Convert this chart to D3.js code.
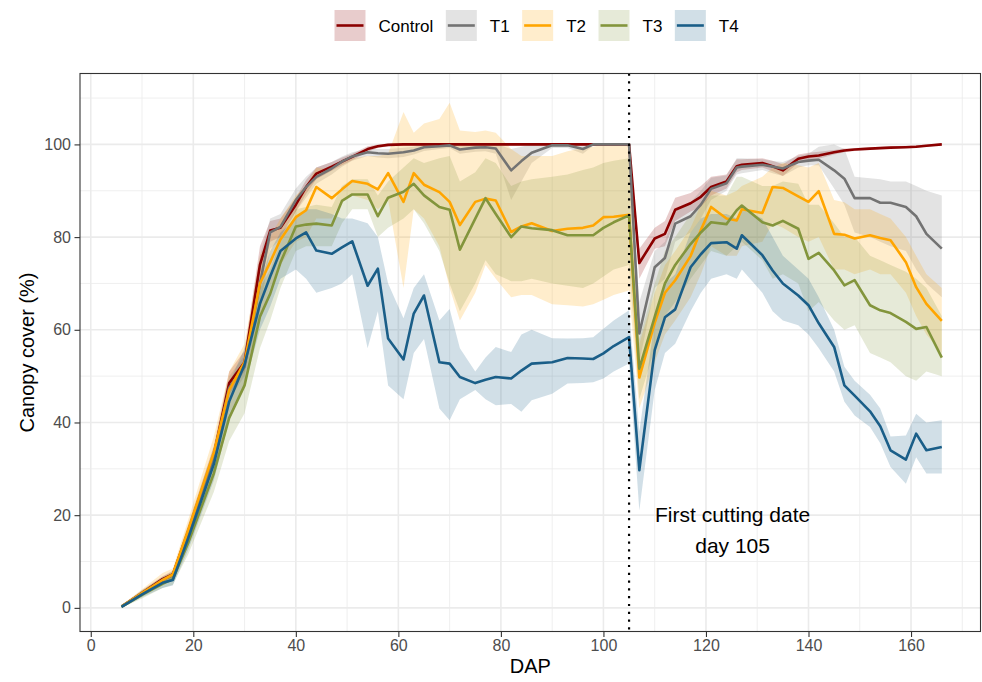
<!DOCTYPE html>
<html>
<head>
<meta charset="utf-8">
<script src="https://cdn.jsdelivr.net/npm/d3@7"></script>
<style>
  html, body { margin: 0; padding: 0; background: #ffffff; }
  svg { display: block; font-family: "Liberation Sans", Arial, Helvetica, sans-serif; }
</style>
</head>
<body>
<svg id="chart" width="982" height="682"></svg>
<script>
// Days after planting (DAP) of each canopy-cover survey
const dap = [6, 10, 14, 16, 19, 24, 27, 30,
  33, 35, 37, 40, 42, 44, 47, 49, 51, 54, 56, 58,
  61, 63, 65, 68, 70, 72, 75, 77, 79, 82, 84, 86,
  90, 93, 96, 98, 100, 102, 105,
  107, 110, 112, 114, 117, 119, 121, 124, 126, 127,
  131, 133, 135, 138, 140, 142, 145, 147, 149, 152, 154, 156, 159, 161, 163, 166];

// Control: mean canopy cover and ribbon bounds (%)
const controlMean = [0.3, 3.2, 6.2, 7.2, 16.5, 33, 48.5, 53,
  74, 81.4, 82, 87, 90.8, 93.7, 95.2, 96.3, 97.3, 99, 99.6, 99.9,
  100, 100, 100, 100, 100, 100, 100, 100, 100, 100, 100, 100,
  100, 100, 100, 100, 100, 100, 100,
  74.4, 79.7, 80.7, 85.9, 87.3, 88.7, 90.8, 92, 95.3, 95.6,
  96, 95.3, 94.4, 96.9, 97.4, 97.6, 98.3, 98.7, 98.9, 99.1, 99.2, 99.3, 99.4, 99.5, 99.7, 100];
const controlLow = [0.1, 2.6, 5.6, 6.5, 15, 31, 46, 51,
  70, 79, 80, 85.5, 89.3, 92.5, 94.3, 95.5, 96.6, 98.4, 99.2, 99.6,
  99.7, 99.7, 99.7, 99.7, 99.7, 99.7, 99.7, 99.7, 99.7, 99.7, 99.7, 99.7,
  99.7, 99.7, 99.7, 99.7, 99.7, 99.7, 99.7,
  71, 77.5, 78, 83.5, 85.5, 86.5, 89, 90.5, 94, 94.5,
  95, 94.2, 93.2, 96, 96.6, 96.9, 97.8, 98.3, 98.6, 98.8, 99, 99.1, 99.2, 99.3, 99.5, 99.8];
const controlHigh = [0.5, 3.8, 6.8, 8, 18, 35, 51, 55.5,
  78, 83.5, 84, 88.5, 92.3, 95, 96.2, 97.2, 98, 99.6, 100, 100.2,
  100.3, 100.3, 100.3, 100.3, 100.3, 100.3, 100.3, 100.3, 100.3, 100.3, 100.3, 100.3,
  100.3, 100.3, 100.3, 100.3, 100.3, 100.3, 100.3,
  77.5, 82, 83.5, 88.5, 89.5, 91, 93, 93.5, 96.8, 96.8,
  97, 96.5, 95.7, 97.8, 98.2, 98.4, 98.8, 99.1, 99.2, 99.4, 99.5, 99.6, 99.7, 99.8, 100, 100.2];

// T1
const t1Mean = [0.3, 3.1, 6, 7, 16, 32.5, 47.5, 52,
  70, 81, 82.2, 88, 90.8, 93, 94.8, 96.3, 97.4, 98.3, 98.1, 98,
  98.3, 98.7, 99.4, 99.6, 99.8, 98.9, 99.3, 99.4, 99.1, 94.4, 96.4, 98.2,
  99.8, 99.8, 99, 100, 100, 100, 100,
  59.2, 73.5, 75.5, 82.9, 84.5, 87, 90.4, 91.6, 95, 95.2,
  95.6, 95.2, 94.8, 96.2, 96.5, 96.7, 94.4, 92.6, 88.4, 88.4, 87.4, 87.4, 86.5, 84.5, 80.7, 77.5];
const t1Low = [0.1, 2.5, 5.3, 6.2, 14.5, 30.5, 45, 50,
  64, 77.5, 79.5, 85.5, 88.5, 91.5, 93.5, 95.2, 96.5, 97.5, 97.2, 97,
  97.3, 97.8, 98.6, 99, 99.2, 98, 98.4, 98.5, 98, 88, 92, 96,
  99.2, 99.2, 98, 99.7, 99.7, 99.7, 99.7,
  53, 69, 71, 79, 81, 84, 88, 90, 93.5, 93.8,
  94.5, 93.8, 93.2, 95, 95.5, 95.5, 90.5, 87, 81, 80, 79, 78, 77, 73, 70, 67];
const t1High = [0.5, 3.7, 6.7, 7.8, 17.5, 34.5, 50, 54.5,
  76, 84, 85, 90.5, 93, 95, 96.2, 97.4, 98.3, 99, 99, 99,
  99.3, 99.5, 100, 100.2, 100.3, 99.8, 100.2, 100.3, 100.2, 99, 99.5, 100,
  100.3, 100.3, 100, 100.3, 100.3, 100.3, 100.3,
  66, 77, 79, 86, 87.5, 90, 92.8, 93.3, 97, 97,
  96.8, 96.4, 96.2, 97.5, 98, 99.5, 100, 99, 93, 92.7, 92.5, 92, 92, 91, 90, 89];

// T2
const t2Mean = [0.3, 3.2, 6, 7.2, 16.8, 33.5, 47, 53,
  70, 74.6, 79.5, 84.3, 85.8, 90.8, 88.4, 90.3, 92.1, 91.5, 90.3, 93.8,
  87.6, 93.8, 91.3, 89.7, 87.6, 82.6, 87.6, 88.3, 87.9, 81.1, 82.3, 83,
  81.3, 81.8, 82, 82.5, 84.3, 84.4, 84.8,
  49.7, 61.5, 68, 70.7, 75.9, 81.5, 86.5, 84, 83.6, 86,
  85.2, 90.8, 90.6, 88.8, 87.6, 89.9, 80.7, 80.5, 79.7, 80.4, 79.8, 79.3, 74.6, 69.2, 65.6, 61.9];
const t2Low = [0.1, 2.5, 5, 6, 14, 29, 42, 48,
  63, 69, 74, 79, 80, 84, 84, 88, 89, 88, 86, 88,
  69, 86, 84, 78, 69, 62, 68, 74, 71, 67, 67.5, 67.5,
  65.5, 65.3, 65, 65.5, 66.5, 67.5, 68.5,
  43, 53, 59, 62, 67, 72, 78, 76, 76, 78,
  79, 83, 82, 80, 79, 80, 73, 73, 72, 73, 72, 72, 68, 63, 59, 55];
const t2High = [0.6, 4, 7.5, 8.5, 19, 37, 51, 57,
  76, 80, 84, 89, 91, 95, 94.5, 96, 97, 97.5, 97.5, 98,
  107, 102.5, 104.5, 105.5, 109, 103, 102.7, 103, 102.5, 99, 97.5, 97.5,
  97.5, 98.5, 99.3, 99.5, 100, 100, 100,
  57, 68, 74, 77, 82, 87, 90, 89, 90, 91,
  93, 95, 96, 95.5, 95, 96, 88, 87.5, 86, 86, 85, 84, 80, 76, 72, 69];

// T3
const t3Mean = [0.2, 2.8, 5.2, 6.2, 14, 29, 41, 48,
  62.8, 67.8, 74.5, 82.3, 82.7, 82.9, 82.5, 87.8, 89.2, 89.2, 84.5, 88.5,
  89.8, 91.5, 89, 86.5, 85.9, 77.3, 84, 88.4, 85, 80, 82.3, 81.9,
  81.5, 80.4, 80.4, 80.4, 82, 83.2, 84.7,
  51.6, 62.8, 70, 74, 78.5, 81, 83.2, 82.8, 85.8, 86.8,
  83.2, 82.5, 83.5, 81.8, 75.3, 76.6, 72.8, 69.6, 70.7, 65.3, 64.2, 63.6, 61.7, 60.2, 60.6, 54];
const t3Low = [0, 2, 4.3, 5, 11.5, 25, 36, 42,
  56, 62, 69, 77, 78, 78, 78, 83, 86, 86, 80, 82,
  84, 86, 83, 77, 70, 64, 70, 75, 72, 70.5, 70.5, 71,
  70, 69.5, 69, 70, 71.5, 73, 74,
  45, 56, 63, 66, 71, 74, 77, 76, 78, 79,
  75, 71, 72, 70, 64, 66, 62, 60, 61, 55, 54, 53, 50, 49, 51, 50];
const t3High = [0.5, 3.8, 6.5, 7.8, 16.5, 33, 46, 53,
  69, 73, 79, 86, 86.5, 87, 86.5, 91, 92.5, 92.5, 89, 92,
  95, 97, 96, 97, 97.5, 92, 94, 97, 96, 91, 92, 92.5,
  93, 93.5, 94.5, 95, 96, 96.5, 97,
  58, 70, 77, 80, 85, 87, 89, 89, 93, 93,
  91, 91, 92, 91.5, 87, 87, 83, 80, 80, 76, 75, 74, 72.5, 71, 69, 63];

// T4
const t4Mean = [0.2, 2.9, 5.4, 6, 15, 31, 44.5, 52.5,
  65.6, 71.5, 77, 79.7, 81, 77.1, 76.4, 77.8, 79.1, 69.5, 73.2, 58.1,
  53.6, 63.5, 67.4, 53, 52.7, 49.8, 48.5, 49.2, 49.8, 49.5, 51.2, 52.7,
  53, 53.9, 53.8, 53.7, 54.9, 56.5, 58.4,
  29.7, 55.6, 62.7, 64.4, 73.5, 76.3, 78.7, 78.9, 77.5, 80.4,
  76.1, 72.8, 70, 67.4, 65.3, 61.4, 56.3, 48, 45.8, 42.4, 39.2, 34, 32, 37.6, 34, 34.7];
const t4Low = [0, 2.3, 4.3, 4.8, 12.5, 27.5, 40.5, 48,
  60, 65, 71, 73, 71, 68, 69, 70, 72, 56, 64, 48,
  45, 55, 58, 43, 40.5, 45, 47, 45, 43.7, 44, 42.3, 44.8,
  46.2, 48.4, 48.5, 48.7, 49.5, 51, 52.7,
  21, 47, 55, 57, 64, 68, 71, 72, 71, 73,
  68, 64, 62, 61, 59, 56, 51, 44.5, 41.5, 39, 35.5, 30.4, 26.8, 32.5, 29, 29];
const t4High = [0.5, 3.6, 6.5, 7.5, 17.5, 34.5, 48.5, 56,
  70, 77, 81, 84, 86, 86, 85, 84, 84, 83, 80, 70,
  62.5, 69, 72, 62, 64.5, 56, 51, 54, 56.3, 55.2, 59, 60,
  58.2, 58.1, 58.2, 58.4, 60.2, 62, 64.2,
  38, 62, 70, 72, 81, 84, 85, 85, 84, 86,
  84, 80, 76, 73, 71, 67, 60, 52, 49, 46, 43, 37, 37.2, 41.9, 40, 40.5];

const treatments = ["Control", "T1", "T2", "T3", "T4"];
const colors = ["#8B0000", "#737373", "#FFA500", "#83953C", "#1A5E88"];
const xTicks = [0, 20, 40, 60, 80, 100, 120, 140, 160];
const yTicks = [0, 20, 40, 60, 80, 100];
const cutDay = 105;
const noteLines = ["First cutting date", "day 105"];

const series = [
  { name: treatments[0], color: colors[0], mean: controlMean, lo: controlLow, hi: controlHigh },
  { name: treatments[1], color: colors[1], mean: t1Mean, lo: t1Low, hi: t1High },
  { name: treatments[2], color: colors[2], mean: t2Mean, lo: t2Low, hi: t2High },
  { name: treatments[3], color: colors[3], mean: t3Mean, lo: t3Low, hi: t3High },
  { name: treatments[4], color: colors[4], mean: t4Mean, lo: t4Low, hi: t4High }
].map(s => ({ ...s, rows: dap.map((d, i) => ({ d, m: s.mean[i], lo: s.lo[i], hi: s.hi[i] })) }));

const svg = d3.select("#chart");
const panel = { left: 80, right: 980.5, top: 73.5, bottom: 631.5 };

const x = d3.scaleLinear().domain([-2.1, 173.55]).range([panel.left, panel.right]);
const y = d3.scaleLinear().domain([-5.1, 115.3]).range([panel.bottom, panel.top]);

svg.append("rect").attr("width", 982).attr("height", 682).attr("fill", "#ffffff");

// grid
const grid = svg.append("g");
const minorX = d3.range(10, 171, 20);
const minorY = d3.range(10, 111, 20);
grid.selectAll(".mx").data(minorX).join("line")
  .attr("x1", d => x(d)).attr("x2", d => x(d))
  .attr("y1", panel.top).attr("y2", panel.bottom)
  .attr("stroke", "#EBEBEB").attr("stroke-width", 0.8);
grid.selectAll(".my").data(minorY).join("line")
  .attr("y1", d => y(d)).attr("y2", d => y(d))
  .attr("x1", panel.left).attr("x2", panel.right)
  .attr("stroke", "#EBEBEB").attr("stroke-width", 0.8);
grid.selectAll(".gx").data(xTicks).join("line")
  .attr("x1", d => x(d)).attr("x2", d => x(d))
  .attr("y1", panel.top).attr("y2", panel.bottom)
  .attr("stroke", "#EBEBEB").attr("stroke-width", 1.6);
grid.selectAll(".gy").data(yTicks).join("line")
  .attr("y1", d => y(d)).attr("y2", d => y(d))
  .attr("x1", panel.left).attr("x2", panel.right)
  .attr("stroke", "#EBEBEB").attr("stroke-width", 1.6);

svg.append("clipPath").attr("id", "clip").append("rect")
  .attr("x", panel.left).attr("y", panel.top)
  .attr("width", panel.right - panel.left).attr("height", panel.bottom - panel.top);

const plot = svg.append("g").attr("clip-path", "url(#clip)");

const area = d3.area().x(r => x(r.d)).y0(r => y(r.lo)).y1(r => y(r.hi));
const line = d3.line().x(r => x(r.d)).y(r => y(r.m));

// ribbons first, then lines (T4 ends on top)
plot.selectAll(".ribbon").data(series).join("path")
  .attr("d", s => area(s.rows))
  .attr("fill", s => s.color).attr("fill-opacity", 0.2).attr("stroke", "none");

plot.selectAll(".mean").data(series).join("path")
  .attr("d", s => line(s.rows))
  .attr("fill", "none").attr("stroke", s => s.color)
  .attr("stroke-width", 2.6).attr("stroke-linejoin", "round");

// first cutting date
plot.append("line")
  .attr("x1", x(cutDay)).attr("x2", x(cutDay))
  .attr("y1", panel.top).attr("y2", panel.bottom)
  .attr("stroke", "#000").attr("stroke-width", 2.2)
  .attr("stroke-dasharray", "2.2,5.6");

svg.append("g").selectAll("text").data(noteLines).join("text")
  .attr("x", x(125.2))
  .attr("y", (d, i) => y(18.6) + i * 31)
  .attr("text-anchor", "middle")
  .attr("font-size", 21).attr("fill", "#000")
  .text(d => d);

// panel border
svg.append("rect")
  .attr("x", panel.left).attr("y", panel.top)
  .attr("width", panel.right - panel.left).attr("height", panel.bottom - panel.top)
  .attr("fill", "none").attr("stroke", "#333333").attr("stroke-width", 1.1);

// axes
const xAxis = svg.append("g").attr("transform", `translate(0,${panel.bottom})`)
  .call(d3.axisBottom(x).tickValues(xTicks).tickSize(5.5).tickPadding(3).tickFormat(d3.format("d")));
const yAxis = svg.append("g").attr("transform", `translate(${panel.left},0)`)
  .call(d3.axisLeft(y).tickValues(yTicks).tickSize(5.5).tickPadding(3.5).tickFormat(d3.format("d")));
[xAxis, yAxis].forEach(a => {
  a.select(".domain").remove();
  a.selectAll(".tick line").attr("stroke", "#333333").attr("stroke-width", 1.1);
  a.selectAll(".tick text").attr("fill", "#4D4D4D").attr("font-size", 16)
    .attr("font-family", "'Liberation Sans', Arial, Helvetica, sans-serif");
});

svg.append("text").attr("x", (panel.left + panel.right) / 2).attr("y", 673)
  .attr("text-anchor", "middle").attr("font-size", 20).attr("fill", "#000").text("DAP");
svg.append("text")
  .attr("transform", `translate(34,${(panel.top + panel.bottom) / 2}) rotate(-90)`)
  .attr("text-anchor", "middle").attr("font-size", 20).attr("fill", "#000").text("Canopy cover (%)");

// legend
const legend = svg.append("g");
let lx = 334.5;
series.forEach(s => {
  const g = legend.append("g").attr("transform", `translate(${lx},10)`);
  g.append("rect").attr("width", 31).attr("height", 31).attr("fill", "#ffffff");
  g.append("rect").attr("width", 31).attr("height", 31).attr("fill", s.color).attr("fill-opacity", 0.2);
  g.append("line").attr("x1", 2).attr("x2", 29).attr("y1", 15.5).attr("y2", 15.5)
    .attr("stroke", s.color).attr("stroke-width", 2.6);
  const t = g.append("text").attr("x", 44).attr("y", 21.7).attr("font-size", 17).attr("fill", "#000").text(s.name);
  lx += 44 + t.node().getComputedTextLength() + 12.5;
});
</script>
</body>
</html>
